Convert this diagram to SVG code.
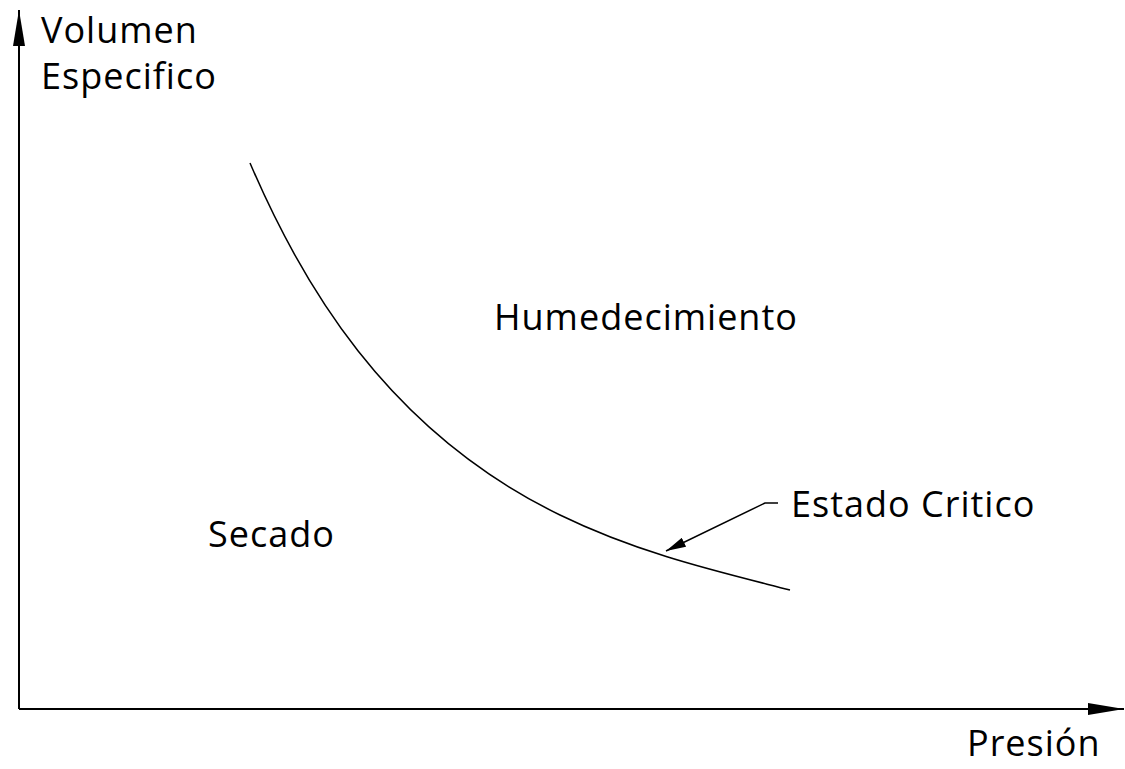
<svg xmlns="http://www.w3.org/2000/svg" width="1125" height="769" viewBox="0 0 1125 769">
<defs>
<style>
.t{font-family:"Open Sans","Noto Sans","Liberation Sans",sans-serif;font-size:36px;letter-spacing:1px;fill:#000}
.ln{fill:none;stroke:#000;stroke-width:1.5}
.ax{fill:none;stroke:#000;stroke-width:2}
</style>
<marker id="ah" viewBox="0 0 20 10" refX="20" refY="5" markerWidth="20" markerHeight="10" markerUnits="userSpaceOnUse" orient="auto">
<path d="M0,0 L20,5 L0,10 Z" fill="#000"/>
</marker>
<marker id="axh" viewBox="0 0 36 12" refX="36" refY="6" markerWidth="36" markerHeight="12" markerUnits="userSpaceOnUse" orient="auto">
<path d="M0,0 L36,6 L0,12 Z" fill="#000"/>
</marker>
</defs>
<rect width="1125" height="769" fill="#fff"/>
<g id="connectors">
<path id="y-axis" class="ax" d="M19,709 L19,10" marker-end="url(#axh)"/>
<path id="x-axis" class="ax" d="M19,709 L1124,709" marker-end="url(#axh)"/>
<path id="curve" class="ln" d="M250,163 C300,280 385,430 560,515 C640,554 720,572 790,590"/>
<path id="leader" class="ln" d="M778,503 L765,503 L666,551" marker-end="url(#ah)"/>
</g>
<g id="label-y"><text class="t" x="41" y="43">Volumen</text><text class="t" x="41" y="89">Especifico</text></g>
<g id="label-humedecimiento"><text class="t" x="494" y="330">Humedecimiento</text></g>
<g id="label-secado"><text class="t" x="208" y="547">Secado</text></g>
<g id="label-estado"><text class="t" x="791" y="517">Estado Critico</text></g>
<g id="label-x"><text class="t" x="967" y="756">Presión</text></g>
</svg>
